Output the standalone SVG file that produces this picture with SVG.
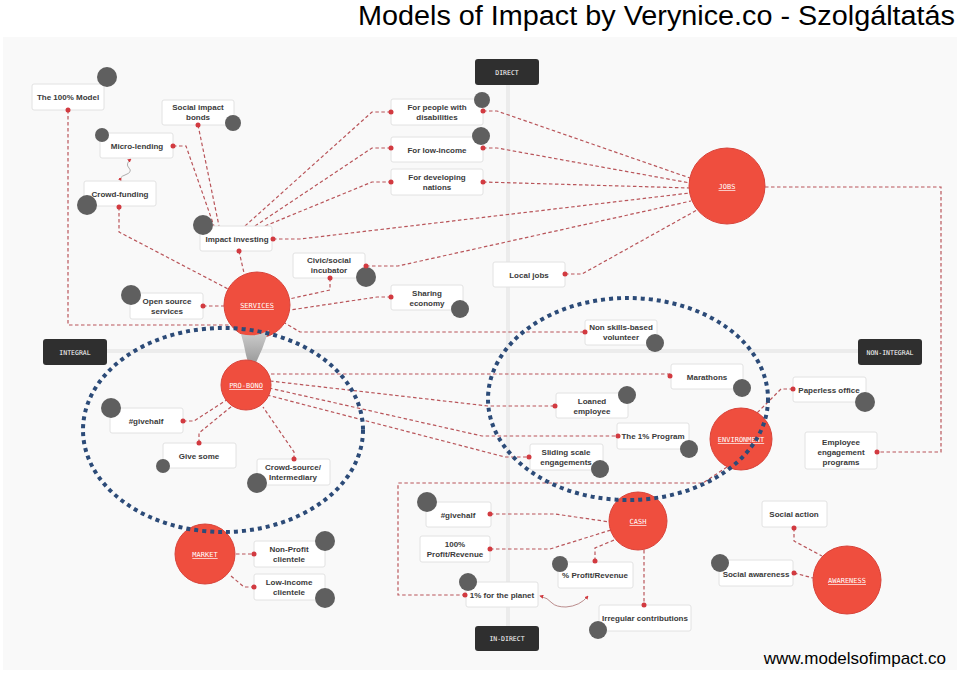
<svg xmlns="http://www.w3.org/2000/svg" width="960" height="674" viewBox="0 0 960 674">
<defs>
<style>
.bx{fill:#ffffff;stroke:#e2e2e2;stroke-width:1}
.t{font-family:"Liberation Sans","Noto Sans",sans-serif;font-weight:bold;font-size:8px;fill:#3a3a3a;text-anchor:middle}
.g{fill:#5f5f5f}
.d{fill:#d23a40}
.c{fill:none;stroke:#b9555a;stroke-width:1.2;stroke-dasharray:3.5 2.5}
.big{fill:#ef4e3e;stroke:#d8433a;stroke-width:1}
.bt{font-family:"DejaVu Sans Mono","Liberation Mono",monospace;font-size:7px;fill:#ffffff;text-anchor:middle;text-decoration:underline}
.lb{fill:#2f2f2f}
.lt{font-family:"DejaVu Sans Mono","Liberation Mono",monospace;font-size:6.5px;fill:#ffffff;text-anchor:middle}
.bl{fill:none;stroke:#2c4b78;stroke-width:4;stroke-dasharray:4 4}
.ax{stroke:#ececec;stroke-width:4}
</style>
<linearGradient id="ag" x1="0" y1="0" x2="0" y2="1">
<stop offset="0" stop-color="#d0d0d0"/>
<stop offset="1" stop-color="#8a8a8a"/>
</linearGradient>
<marker id="ar" viewBox="0 0 6 6" refX="5" refY="3" markerWidth="5" markerHeight="5" orient="auto-start-reverse">
<path d="M0,0 L6,3 L0,6 Z" fill="#d23a40"/>
</marker>
</defs>
<rect x="0" y="0" width="960" height="674" fill="#ffffff"/>
<rect x="3" y="37" width="954" height="633" fill="#f9f9f9"/>
<text x="955" y="25" font-family="Liberation Sans, sans-serif" font-size="27" fill="#000" text-anchor="end" textLength="597" lengthAdjust="spacingAndGlyphs">Models of Impact by Verynice.co - Szolgáltatás</text>

<g id="axes">
<line class="ax" x1="508" y1="85" x2="508" y2="626"/>
<line class="ax" x1="107" y1="351" x2="858" y2="351"/>
</g>

<g id="connectors">
<path class="c" d="M68,110 V325 H234"/>
<path class="c" d="M198,125 L219,226"/>
<path class="c" d="M173,146 H186 L214,226"/>
<path class="c" d="M119,207 V232 L230,290"/>
<path d="M131,159 q-6,5 -2,9 q4,4 -4,7 q-6,2 -4,6" fill="none" stroke="#999" stroke-width="0.8" marker-start="url(#ar)" marker-end="url(#ar)"/>
<path class="c" d="M273,239 H300 L690,193"/>
<path class="c" d="M245,226 L372,112 H391"/>
<path class="c" d="M255,226 L372,148 H391"/>
<path class="c" d="M265,226 L372,182 H391"/>
<path class="c" d="M239,251 L244,273"/>
<path class="c" d="M483,111 H497 L690,178"/>
<path class="c" d="M483,148 H497 L690,183"/>
<path class="c" d="M483,182 L690,188"/>
<path class="c" d="M366,266 H398 L691,201"/>
<path class="c" d="M565,274 H582 L697,210"/>
<path class="c" d="M765,187 H941 V452 H877"/>
<path class="c" d="M330,278 V290 L289,299"/>
<path class="c" d="M391,297 H377 L290,310"/>
<path class="c" d="M203,306 H224"/>
<path class="c" d="M283,322 L300,332 H585"/>
<path class="c" d="M271,374 H670"/>
<path class="c" d="M270,381 L488,406 H555"/>
<path class="c" d="M269,388 L482,436 H618"/>
<path class="c" d="M267,395 L505,457 H529"/>
<path class="c" d="M183,421 H194 L228,399"/>
<path class="c" d="M199,443 V433 L232,406"/>
<path class="c" d="M294,459 V452 L263,407"/>
<path class="c" d="M793,389 H781 L757,413"/>
<path class="c" d="M727,467 L703,483 H398 V595 H465"/>
<path class="c" d="M490,514 H555 L610,522"/>
<path class="c" d="M490,549 H550 L611,530"/>
<path class="c" d="M595,561 V548 L619,538"/>
<path class="c" d="M644,550 V605"/>
<path d="M540,596 q8,2 12,7 q4,4 14,4 q14,-1 22,-11" fill="none" stroke="#aa7070" stroke-width="0.8" marker-start="url(#ar)" marker-end="url(#ar)"/>
<path class="c" d="M236,554 H254"/>
<path class="c" d="M231,576 L244,587 H254"/>
<path class="c" d="M794,528 V541 L822,556"/>
<path class="c" d="M794,573 L813,578"/>
</g>

<g id="direct"><rect class="lb" x="475" y="59" width="64" height="26" rx="3"/><text class="lt" x="507" y="75">DIRECT</text></g>
<g id="indirect"><rect class="lb" x="475" y="626" width="64" height="25" rx="3"/><text class="lt" x="507" y="641">IN-DIRECT</text></g>
<g id="integral"><rect class="lb" x="43" y="339" width="64" height="26" rx="3"/><text class="lt" x="75" y="355">INTEGRAL</text></g>
<g id="nonintegral"><rect class="lb" x="858" y="339" width="64" height="26" rx="3"/><text class="lt" x="890" y="355">NON-INTEGRAL</text></g>

<g id="n100model"><rect class="bx" x="32" y="84" width="72" height="26" rx="2"/><text class="t" x="68" y="100">The 100% Model</text><circle class="g" cx="107" cy="77" r="10"/><circle class="d" cx="68" cy="110" r="2.5"/></g>
<g id="socialbonds"><rect class="bx" x="162" y="100" width="72" height="25" rx="2"/><text class="t" x="198" y="110">Social impact</text><text class="t" x="198" y="120">bonds</text><circle class="g" cx="233" cy="123" r="8"/><circle class="d" cx="198" cy="125" r="2.5"/></g>
<g id="microlending"><rect class="bx" x="100" y="133" width="73" height="25" rx="2"/><text class="t" x="137" y="149">Micro-lending</text><circle class="g" cx="102" cy="135" r="7"/><circle class="d" cx="173" cy="146" r="2.5"/></g>
<g id="crowdfunding"><rect class="bx" x="84" y="181" width="72" height="25" rx="2"/><text class="t" x="120" y="197">Crowd-funding</text><circle class="g" cx="87" cy="205" r="10"/><circle class="d" cx="119" cy="207" r="2.5"/></g>
<g id="impactinvesting"><rect class="bx" x="200" y="226" width="72" height="25" rx="2"/><text class="t" x="237" y="242">Impact investing</text><circle class="g" cx="203" cy="225" r="10"/><circle class="d" cx="273" cy="239" r="2.5"/><circle class="d" cx="239" cy="251" r="2.5"/></g>
<g id="civic"><rect class="bx" x="293" y="253" width="72" height="25" rx="2"/><text class="t" x="329" y="263">Civic/social</text><text class="t" x="329" y="273">incubator</text><circle class="g" cx="366" cy="277" r="10"/><circle class="d" cx="366" cy="266" r="2.5"/><circle class="d" cx="330" cy="278" r="2.5"/></g>
<g id="opensource"><rect class="bx" x="130" y="293" width="73" height="26" rx="2"/><text class="t" x="167" y="304">Open source</text><text class="t" x="167" y="314">services</text><circle class="g" cx="131" cy="295" r="10"/><circle class="d" cx="203" cy="306" r="2.5"/></g>
<g id="sharing"><rect class="bx" x="391" y="285" width="72" height="25" rx="2"/><text class="t" x="427" y="296">Sharing</text><text class="t" x="427" y="306">economy</text><circle class="g" cx="460" cy="309" r="9"/><circle class="d" cx="391" cy="297" r="2.5"/></g>
<g id="localjobs"><rect class="bx" x="493" y="262" width="72" height="25" rx="2"/><text class="t" x="529" y="278">Local jobs</text><circle class="d" cx="565" cy="274" r="2.5"/></g>
<g id="nonskills"><rect class="bx" x="585" y="320" width="72" height="25" rx="2"/><text class="t" x="621" y="330">Non skills-based</text><text class="t" x="621" y="340">volunteer</text><circle class="g" cx="655" cy="343" r="9"/><circle class="d" cx="585" cy="332" r="2.5"/></g>
<g id="disabilities"><rect class="bx" x="391" y="99" width="92" height="26" rx="2"/><text class="t" x="437" y="110">For people with</text><text class="t" x="437" y="120">disabilities</text><circle class="g" cx="482" cy="100" r="8"/><circle class="d" cx="391" cy="112" r="2.5"/><circle class="d" cx="483" cy="111" r="2.5"/></g>
<g id="lowincome"><rect class="bx" x="391" y="137" width="92" height="25" rx="2"/><text class="t" x="437" y="153">For low-income</text><circle class="g" cx="481" cy="136" r="9"/><circle class="d" cx="391" cy="148" r="2.5"/><circle class="d" cx="483" cy="148" r="2.5"/></g>
<g id="developing"><rect class="bx" x="391" y="169" width="92" height="26" rx="2"/><text class="t" x="437" y="180">For developing</text><text class="t" x="437" y="190">nations</text><circle class="d" cx="391" cy="182" r="2.5"/><circle class="d" cx="483" cy="182" r="2.5"/></g>

<g id="jobs"><circle class="big" cx="727" cy="186" r="38"/><text class="bt" x="727" y="189">JOBS</text></g>
<g id="services"><circle class="big" cx="257" cy="305" r="33"/><text class="bt" x="257" y="308">SERVICES</text></g>
<g id="arrow"><path d="M241,334 Q256,338 269,330 Q262,352 251,373 L246,355 Q244,344 241,334 Z" fill="url(#ag)"/></g>
<g id="probono"><circle class="big" cx="246" cy="385" r="25"/><text class="bt" x="246" y="388">PRO-BONO</text></g>

<g id="givehalf1"><rect class="bx" x="110" y="408" width="73" height="25" rx="2"/><text class="t" x="146" y="424">#givehalf</text><circle class="g" cx="111" cy="408" r="10"/><circle class="d" cx="183" cy="421" r="2.5"/></g>
<g id="givesome"><rect class="bx" x="163" y="443" width="73" height="25" rx="2"/><text class="t" x="199" y="459">Give some</text><circle class="g" cx="163" cy="466" r="7"/><circle class="d" cx="199" cy="443" r="2.5"/></g>
<g id="crowdsource"><rect class="bx" x="257" y="459" width="73" height="26" rx="2"/><text class="t" x="293" y="470">Crowd-source/</text><text class="t" x="293" y="480">Intermediary</text><circle class="g" cx="257" cy="483" r="10"/><circle class="d" cx="294" cy="459" r="2.5"/></g>
<g id="marathons"><rect class="bx" x="671" y="364" width="72" height="25" rx="2"/><text class="t" x="707" y="380">Marathons</text><circle class="g" cx="742" cy="388" r="9"/><circle class="d" cx="670" cy="376" r="2.5"/></g>
<g id="loaned"><rect class="bx" x="556" y="393" width="72" height="25" rx="2"/><text class="t" x="592" y="404">Loaned</text><text class="t" x="592" y="414">employee</text><circle class="g" cx="627" cy="395" r="9"/><circle class="d" cx="555" cy="406" r="2.5"/></g>
<g id="onepercent"><rect class="bx" x="617" y="423" width="72" height="26" rx="2"/><text class="t" x="653" y="439">The 1% Program</text><circle class="g" cx="689" cy="449" r="9"/><circle class="d" cx="618" cy="436" r="2.5"/></g>
<g id="sliding"><rect class="bx" x="530" y="444" width="73" height="26" rx="2"/><text class="t" x="566" y="455">Sliding scale</text><text class="t" x="566" y="465">engagements</text><circle class="g" cx="600" cy="469" r="9"/><circle class="d" cx="529" cy="457" r="2.5"/></g>
<g id="environment"><circle class="big" cx="741" cy="439" r="31"/><text class="bt" x="741" y="442">ENVIRONMENT</text></g>
<g id="paperless"><rect class="bx" x="793" y="377" width="73" height="25" rx="2"/><text class="t" x="829" y="393">Paperless office</text><circle class="g" cx="865" cy="402" r="10"/><circle class="d" cx="793" cy="389" r="2.5"/></g>
<g id="employeeeng"><rect class="bx" x="805" y="432" width="72" height="37" rx="2"/><text class="t" x="841" y="445">Employee</text><text class="t" x="841" y="455">engagement</text><text class="t" x="841" y="465">programs</text><circle class="d" cx="877" cy="452" r="2.5"/></g>

<g id="cash"><circle class="big" cx="638" cy="521" r="29"/><text class="bt" x="638" y="524">CASH</text></g>
<g id="givehalf2"><rect class="bx" x="426" y="502" width="65" height="25" rx="2"/><text class="t" x="458" y="518">#givehalf</text><circle class="g" cx="427" cy="502" r="10"/><circle class="d" cx="490" cy="514" r="2.5"/></g>
<g id="profit100"><rect class="bx" x="420" y="536" width="70" height="26" rx="2"/><text class="t" x="455" y="547">100%</text><text class="t" x="455" y="557">Profit/Revenue</text><circle class="d" cx="490" cy="549" r="2.5"/></g>
<g id="pctprofit"><rect class="bx" x="558" y="562" width="75" height="26" rx="2"/><text class="t" x="595" y="578">% Profit/Revenue</text><circle class="g" cx="560" cy="564" r="8"/><circle class="d" cx="595" cy="561" r="2.5"/></g>
<g id="planet"><rect class="bx" x="466" y="582" width="72" height="25" rx="2"/><text class="t" x="502" y="598">1% for the planet</text><circle class="g" cx="468" cy="582" r="9"/><circle class="d" cx="465" cy="595" r="2.5"/></g>
<g id="irregular"><rect class="bx" x="599" y="605" width="92" height="26" rx="2"/><text class="t" x="645" y="621">Irregular contributions</text><circle class="g" cx="598" cy="630" r="9"/><circle class="d" cx="644" cy="605" r="2.5"/></g>

<g id="market"><circle class="big" cx="205" cy="554" r="30"/><text class="bt" x="205" y="557">MARKET</text></g>
<g id="nonprofit"><rect class="bx" x="254" y="541" width="71" height="26" rx="2"/><text class="t" x="289" y="552">Non-Profit</text><text class="t" x="289" y="562">clientele</text><circle class="g" cx="325" cy="541" r="10"/><circle class="d" cx="254" cy="554" r="2.5"/></g>
<g id="lowclient"><rect class="bx" x="254" y="574" width="71" height="26" rx="2"/><text class="t" x="289" y="585">Low-income</text><text class="t" x="289" y="595">clientele</text><circle class="g" cx="325" cy="598" r="10"/><circle class="d" cx="254" cy="587" r="2.5"/></g>

<g id="socialaction"><rect class="bx" x="762" y="501" width="65" height="26" rx="2"/><text class="t" x="794" y="517">Social action</text><circle class="d" cx="794" cy="528" r="2.5"/></g>
<g id="socialawareness"><rect class="bx" x="719" y="560" width="74" height="26" rx="2"/><text class="t" x="756" y="577">Social awareness</text><circle class="g" cx="720" cy="563" r="9"/><circle class="d" cx="794" cy="573" r="2.5"/></g>
<g id="awareness"><circle class="big" cx="847" cy="580" r="34"/><text class="bt" x="847" y="583">AWARENESS</text></g>

<g id="ellipses">
<ellipse class="bl" cx="223" cy="430" rx="140" ry="102"/>
<ellipse class="bl" cx="628" cy="399" rx="140" ry="101"/>
</g>

<text x="946" y="664" font-family="Liberation Sans, sans-serif" font-size="17" fill="#000" text-anchor="end">www.modelsofimpact.co</text>
</svg>
